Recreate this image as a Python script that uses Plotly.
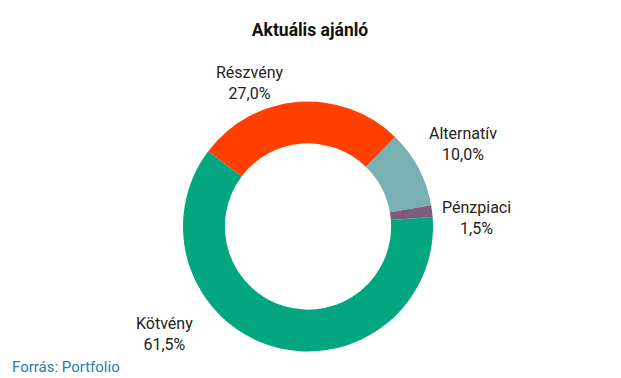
import plotly.graph_objects as go

labels = ["Részvény", "Alternatív", "Pénzpiaci", "Kötvény"]
values = [27.0, 10.0, 1.5, 61.5]
colors = ["#FF4000", "#78B0B4", "#7E5C7A", "#03A67F"]

W, H = 621, 378
OFF = 8  # page body margin
cx, cy, r = 308 - OFF, 226.5 - OFF, 125

# label block centres (layout, pixels in the final picture)
label_xy = [(250, 83), (463, 144), (476, 218), (164, 334)]

fig = go.Figure(go.Pie(
    labels=labels,
    values=values,
    marker=dict(colors=colors, line=dict(width=0)),
    hole=0.665,
    sort=False,
    direction="clockwise",
    rotation=-53,
    textinfo="none",
    showlegend=False,
    domain=dict(x=[(cx - r) / W, (cx + r) / W], y=[1 - (cy + r) / H, 1 - (cy - r) / H]),
))

annotations = []
for lab, val, (lx, ly) in zip(labels, values, label_xy):
    annotations.append(dict(
        text=f"{lab}<br>{val:.1f}%".replace(".", ","),
        x=(lx - OFF) / W, y=1 - (ly - OFF) / H, xref="paper", yref="paper",
        xanchor="center", yanchor="middle", showarrow=False,
        font=dict(family="Roboto", size=16, color="#222222"),
    ))
annotations.append(dict(
    text="Forrás: Portfolio", x=(10 - OFF) / W, y=1 - (367 - OFF) / H, xref="paper", yref="paper",
    xanchor="left", yanchor="middle", showarrow=False,
    font=dict(family="Roboto", size=15, color="#2A7AB0")))

fig.update_layout(
    width=W, height=H,
    margin=dict(l=0, r=0, t=0, b=0),
    paper_bgcolor="white",
    title=dict(text="<b>Aktuális ajánló</b>", x=(310 - OFF) / W, xanchor="center",
               y=1 - (30 - OFF) / H, yanchor="middle",
               font=dict(family="Roboto", size=17.5, color="#111111")),
    annotations=annotations,
)

fig.write_html("out.html")
